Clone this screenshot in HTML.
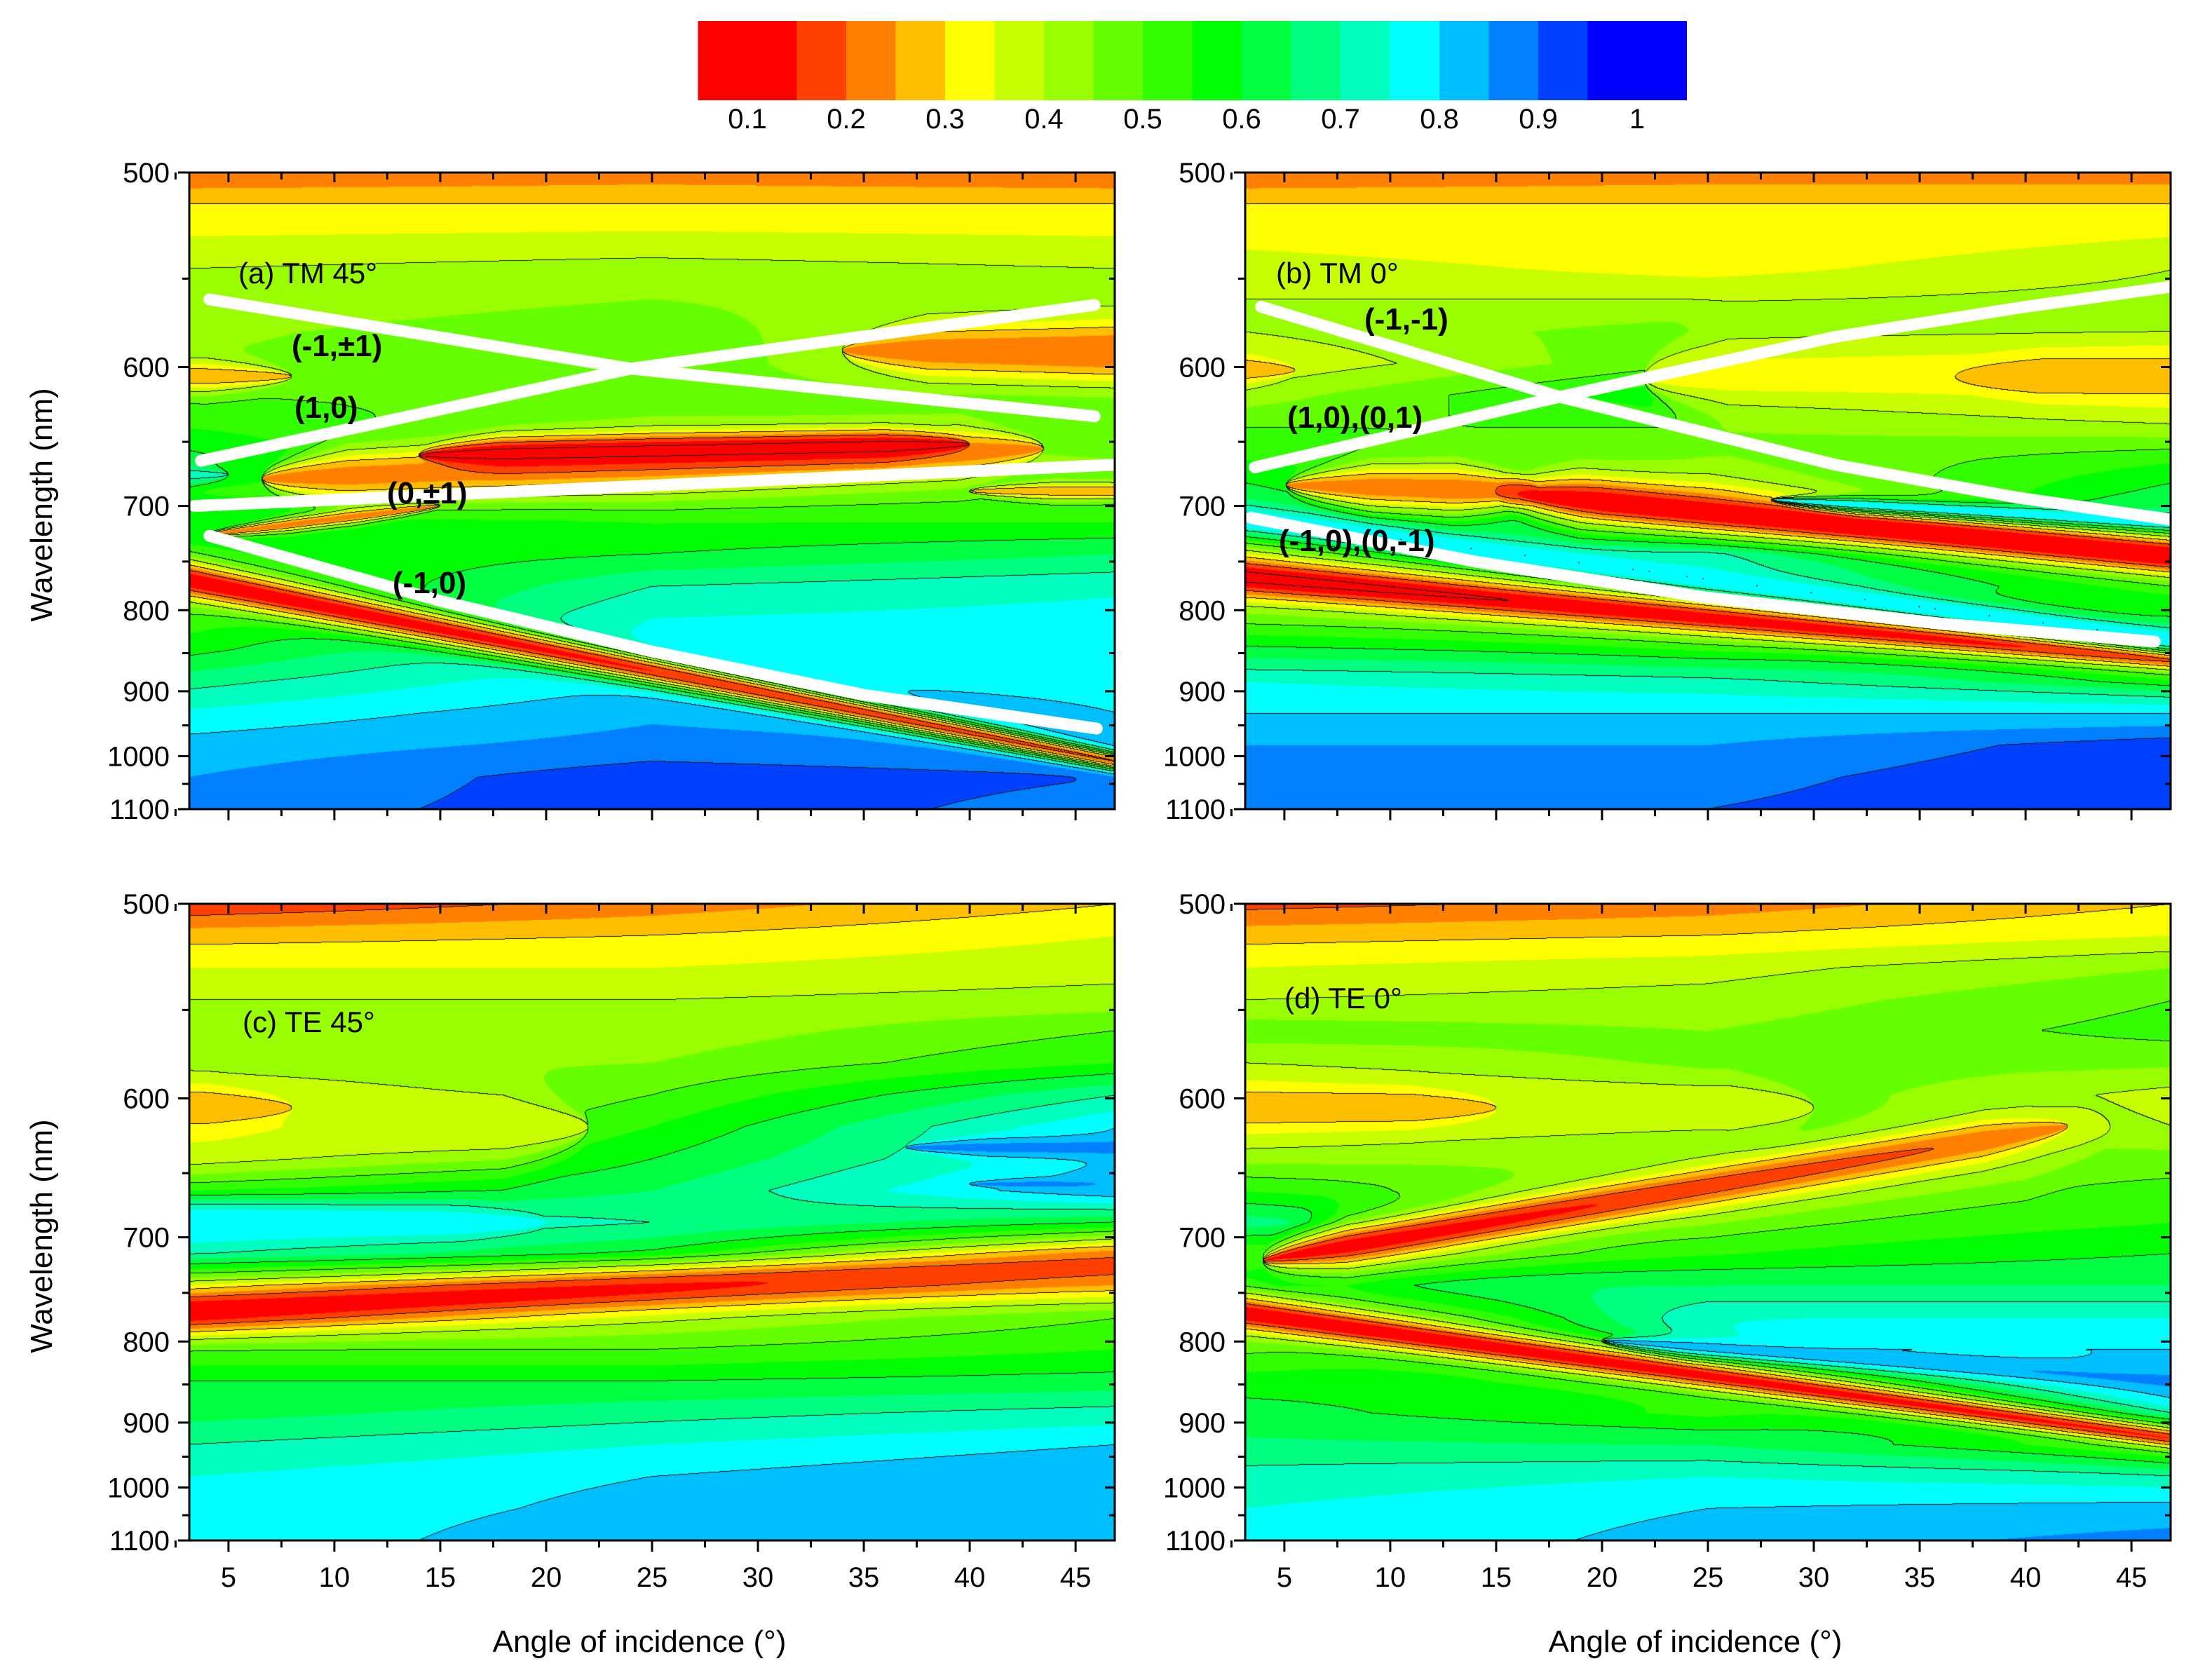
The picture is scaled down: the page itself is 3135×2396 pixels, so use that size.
<!DOCTYPE html>
<html><head><meta charset="utf-8"><style>
html,body{margin:0;padding:0;background:#fff;}
#root{position:relative;width:3135px;height:2396px;overflow:hidden;background:#fff;font-family:"Liberation Sans",sans-serif;}
canvas{position:absolute;}
svg{position:absolute;left:0;top:0;}
</style></head><body>
<div id="root">
<canvas id="cva" width="1320" height="908" style="left:270px;top:246px"></canvas>
<canvas id="cvb" width="1320" height="908" style="left:1776px;top:246px"></canvas>
<canvas id="cvc" width="1320" height="908" style="left:270px;top:1289px"></canvas>
<canvas id="cvd" width="1320" height="908" style="left:1776px;top:1289px"></canvas>
<svg id="ov" width="3135" height="2396" viewBox="0 0 3135 2396"></svg>
</div>
<script>
// ---- data ----
const wlNodes=[500,514,529,545,561,579,598,618,640,663,688,714,743,775,809,846,887,932,982,1038,1100];
const colAngles=[3,25,47];
const levelColors=['#ff0000','#ff4000','#ff8000','#ffbf00','#ffff00','#c8ff00','#99ff00','#66ff00','#33ff00','#00ff00','#00ff40','#00ff80','#00ffbf','#00ffff','#00bfff','#0080ff','#0040ff','#0000ff'];
const cbTicks=[0.1,0.2,0.3,0.4,0.5,0.6,0.7,0.8,0.9,1];
const yTicks=[500,600,700,800,900,1000,1100];
const yMinor=[550,650,750,850,950,1050];
const xTicks=[5,10,15,20,25,30,35,40,45];

// panel a TM 45
const aLeft=[.2,.3,.35,.4,.42,.44,.45,.5,.55,.62,.55,.6,.55,.5,.52,.58,.68,.76,.82,.85,.87];
const aMid=[.22,.3,.36,.42,.45,.48,.5,.48,.45,.4,.45,.55,.6,.7,.75,.78,.8,.84,.87,.93,.93];
const aRight=[.2,.3,.35,.4,.42,.35,.3,.45,.5,.45,.5,.55,.65,.74,.77,.78,.79,.8,.85,.9,.88];
// band: [angleStart, angleEnd, wlStart, wlEnd, valStart, valEnd, widthStart, widthEnd]
const aBands=[[6.6,43.5,678,655,.22,.22,22,18],[14,40,660,652,.08,.08,12,10],[34,47,590,590,.22,.2,14,14],[3,8,606,606,.26,.26,10,10],[4,15,725,700,.22,.22,7,6],[40,47,688,688,.25,.25,7,7],[3,5,675,675,.72,.72,12,12],[3,47,768,1010,.45,.42,24,18],[3,47,768,1010,.1,.2,18,10]];
// panel b TM 0
const bLeft=[.2,.3,.33,.38,.4,.4,.35,.42,.5,.55,.62,.7,.55,.45,.5,.62,.75,.8,.85,.87,.87];
const bMid=[.22,.3,.3,.33,.4,.48,.5,.6,.5,.45,.4,.55,.75,.7,.5,.6,.72,.8,.85,.88,.9];
const bRight=[.22,.3,.35,.4,.42,.45,.35,.38,.45,.55,.62,.68,.5,.55,.6,.75,.65,.8,.93,.95,.95];
const bBands=[[3,5.5,602,602,.25,.25,10,10],[22,47,606,606,.33,.33,30,30],[36.7,47,606,606,.25,.25,12,12],[5.1,17,683,688,.22,.2,18,22],[15,47,688,745,.18,.14,22,20],[16,47,690,745,.1,.1,10,10],[3,47,765,860,.45,.45,40,30],[3,47,765,858,.08,.15,22,12],[3,47,711,834,.8,.8,12,15],[28,47,695,714,.78,.8,6,7]];
// panel c TE 45
const cLeft=[.15,.28,.35,.4,.42,.43,.35,.35,.4,.55,.78,.7,.4,.3,.5,.6,.63,.7,.75,.75,.75];
const cMid=[.22,.3,.35,.4,.42,.45,.5,.55,.6,.65,.7,.6,.3,.4,.5,.6,.68,.75,.8,.82,.85];
const cRight=[.3,.35,.38,.42,.5,.55,.7,.8,.8,.85,.6,.3,.3,.5,.55,.62,.72,.8,.85,.85,.85];
const cBands=[[3,22,618,618,.35,.35,25,25],[3,8,606,606,.25,.25,12,12],[3,20,688,688,.8,.78,15,12],[37,47,632,632,.87,.87,7,7],[40,46,658,658,.87,.87,4,4],[3,47,768,725,.1,.18,20,18]];
// panel d TE 0
const dLeft=[.18,.28,.35,.4,.48,.42,.35,.38,.45,.55,.68,.5,.65,.4,.5,.58,.62,.66,.72,.75,.75];
const dMid=[.22,.3,.38,.42,.45,.48,.5,.5,.45,.45,.5,.55,.65,.75,.8,.6,.55,.65,.75,.8,.82];
const dRight=[.3,.35,.45,.5,.52,.46,.38,.4,.47,.52,.55,.6,.65,.75,.8,.84,.8,.55,.72,.82,.87];
const dBands=[[3,30,606,606,.35,.35,25,20],[3,15,606,606,.25,.25,12,10],[4,44,720,618,.35,.38,28,25],[4,42,720,618,.1,.22,14,12],[3,47,770,923,.48,.5,40,35],[3,47,770,923,.1,.15,18,14],[20,47,799,846,.82,.86,10,12]];

// white diffraction-order lines [angle, wavelength]
const lineA1=[[4.1,561],[24,601],[45.9,632]];
const lineA2=[[3.7,664],[24,601],[36,580],[45.9,564]];
const lineA3=[[3.4,700],[46.85,667]];
const lineA4=[[4.1,726],[15,790],[25,848],[35,905],[46,955]];
const lineB1=[[3.9,565],[18,619],[31,667],[39.6,693],[47,712]];
const lineB2=[[3.6,669],[18,619],[31,582],[40,565],[47,554]];
const lineB3=[[3.4,710],[14,750],[24.8,786],[36,815],[46.1,836]];

// ---- rendering ----
const K=1/500-1/1100;
function fOf(l){return (1/500-1/l)/K;}
const A0=3.15,A1=46.85;
const nodeF=wlNodes.map(fOf);
function renderPanel(cv,cols,bands){
  const w=cv.width,h=cv.height,ctx=cv.getContext('2d');
  const img=ctx.createImageData(w,h),d=img.data;
  const vals=new Float32Array(w*h);
  const nb=bands.length;
  const bfc=[],bwf=[],bamp=[],bval=[];
  for(let i=0;i<nb;i++){bfc.push(new Float32Array(w));bwf.push(new Float32Array(w));bamp.push(new Float32Array(w));bval.push(new Float32Array(w));}
  const colT=new Float32Array(w),colSeg=new Int8Array(w);
  for(let px=0;px<w;px++){
    const a=A0+(px+0.5)/w*(A1-A0);
    if(a<colAngles[1]){colSeg[px]=0;colT[px]=Math.max(0,(a-colAngles[0])/(colAngles[1]-colAngles[0]));}
    else{colSeg[px]=1;colT[px]=Math.min(1,(a-colAngles[1])/(colAngles[2]-colAngles[1]));}
    for(let i=0;i<nb;i++){
      const b=bands[i];
      let t=(a-b[0])/(b[1]-b[0]);
      const tc=Math.max(0,Math.min(1,t));
      const fc=fOf(b[2])+(fOf(b[3])-fOf(b[2]))*t;
      const lc=1/(1/500-fc*K);
      let wn=b[6]+(b[7]-b[6])*tc;
      let amp=1;
      if(b[0]>3.3){const r=(a-b[0])/4; if(r<=0)amp=0; else if(r<1) wn*=Math.sqrt(r);}
      if(b[1]<46.7){const r=(b[1]-a)/4; if(r<=0)amp=0; else if(r<1) wn*=Math.sqrt(r);}
      bfc[i][px]=fc; bwf[i][px]=Math.max(1e-4,wn/(lc*lc*K)); bamp[i][px]=amp; bval[i][px]=b[4]+(b[5]-b[4])*tc;
    }
  }
  for(let py=0;py<h;py++){
    const f=(py+0.5)/h;
    let k=0; while(k<nodeF.length-2&&f>nodeF[k+1])k++;
    const u=Math.max(0,Math.min(1,(f-nodeF[k])/(nodeF[k+1]-nodeF[k])));
    const c0=cols[0][k]+(cols[0][k+1]-cols[0][k])*u;
    const c1=cols[1][k]+(cols[1][k+1]-cols[1][k])*u;
    const c2=cols[2][k]+(cols[2][k+1]-cols[2][k])*u;
    for(let px=0;px<w;px++){
      const t=colT[px];
      let v=colSeg[px]===0?c0+(c1-c0)*t:c1+(c2-c1)*t;
      for(let i=0;i<nb;i++){
        const am=bamp[i][px]; if(am===0)continue;
        const z=(f-bfc[i][px])/bwf[i][px];
        if(z>3||z<-3)continue;
        const g=Math.exp(-z*z)*am;
        v=v+(bval[i][px]-v)*g;
      }
      vals[py*w+px]=v;
    }
  }
  const rgb=levelColors.map(c=>[parseInt(c.slice(1,3),16),parseInt(c.slice(3,5),16),parseInt(c.slice(5,7),16)]);
  for(let py=0;py<h;py++)for(let px=0;px<w;px++){
    const v=vals[py*w+px];
    let idx=Math.floor((v-0.1)/0.05); if(idx<0)idx=0; if(idx>17)idx=17;
    const L=Math.floor(v*10);
    let line=false;
    if(px+1<w&&Math.floor(vals[py*w+px+1]*10)!==L)line=true;
    if(py+1<h&&Math.floor(vals[(py+1)*w+px]*10)!==L)line=true;
    const o=(py*w+px)*4;
    if(line){d[o]=20;d[o+1]=20;d[o+2]=20;}
    else{d[o]=rgb[idx][0];d[o+1]=rgb[idx][1];d[o+2]=rgb[idx][2];}
    d[o+3]=255;
  }
  ctx.putImageData(img,0,0);
}
renderPanel(document.getElementById('cva'),[aLeft,aMid,aRight],aBands);
renderPanel(document.getElementById('cvb'),[bLeft,bMid,bRight],bBands);
renderPanel(document.getElementById('cvc'),[cLeft,cMid,cRight],cBands);
renderPanel(document.getElementById('cvd'),[dLeft,dMid,dRight],dBands);

// ---- overlay svg ----
const NS='http://www.w3.org/2000/svg';
const ov=document.getElementById('ov');
function mk(tag,attrs,parent){const e=document.createElementNS(NS,tag);for(const k in attrs)e.setAttribute(k,attrs[k]);(parent||ov).appendChild(e);return e;}
function cbX(v){return 1066+(v-0.1)*1410;}
const cbg=mk('g',{});


for(let i=0;i<levelColors.length;i++){
  const lo=i===0?0.05:0.1+0.05*i, hi=i===17?1.05:0.15+0.05*i;
  const r=mk('rect',{x:cbX(lo),y:30,width:cbX(hi)-cbX(lo)+0.5,height:113,fill:levelColors[i]},cbg);
  
  
}
cbTicks.forEach(v=>{
  const t=mk('text',{x:cbX(v),y:183,'font-size':40,'text-anchor':'middle',fill:'#000'},cbg);
  t.textContent=String(v);
  
  
});
const panels=[
 {id:'a',x:270,y:246,title:'(a) TM 45°',tx:340,ty:404,xl:false,lines:[lineA1,lineA2,lineA3,lineA4],labels:[['(-1,±1)',416,508],['(1,0)',420,596],['(0,±1)',552,718],['(-1,0)',560,846]]},
 {id:'b',x:1776,y:246,title:'(b) TM 0°',tx:1820,ty:404,xl:false,lines:[lineB1,lineB2,lineB3],labels:[['(-1,-1)',1946,470],['(1,0),(0,1)',1836,610],['(-1,0),(0,-1)',1824,786]]},
 {id:'c',x:270,y:1289,title:'(c) TE 45°',tx:346,ty:1472,xl:true,lines:[],labels:[]},
 {id:'d',x:1776,y:1289,title:'(d) TE 0°',tx:1832,ty:1438,xl:true,lines:[],labels:[]}
];
const PW=1320,PH=908;
panels.forEach(p=>{
  const g=mk('g',{});
  
  
  const X=a=>p.x+(a-A0)/(A1-A0)*PW;
  const Y=l=>p.y+fOf(l)*PH;
  p.lines.forEach(ln=>{
    const pl=mk('polyline',{points:ln.map(q=>X(q[0]).toFixed(1)+','+Y(q[1]).toFixed(1)).join(' '),fill:'none',stroke:'#fff','stroke-width':17,'stroke-linecap':'round','stroke-linejoin':'round'},g);
    
    
  });
  p.labels.forEach(lb=>{
    const t=mk('text',{x:lb[1],y:lb[2],'font-size':44,'font-weight':'bold',fill:'#000'},g);
    t.textContent=lb[0];
    
    
  });
  const tt=mk('text',{x:p.tx,y:p.ty,'font-size':42,fill:'#000'},g);
  tt.textContent=p.title;
  
  
  const fr=mk('rect',{x:p.x,y:p.y,width:PW,height:PH,fill:'none',stroke:'#000','stroke-width':3},g);
  
  
  let tk='';
  yTicks.forEach(l=>{const y=Y(l);tk+=`M${p.x-16},${y}H${p.x}M${p.x+PW},${y}H${p.x+PW-14}`;});
  yMinor.forEach(l=>{const y=Y(l);tk+=`M${p.x-10},${y}H${p.x}M${p.x+PW},${y}H${p.x+PW-8}`;});
  xTicks.forEach(a=>{const x=X(a);tk+=`M${x},${p.y+PH}V${p.y+PH+16}M${x},${p.y}V${p.y+14}`;
    const xm=X(a-2.5);tk+=`M${xm},${p.y+PH}V${p.y+PH+10}M${xm},${p.y}V${p.y+10}`;});
  const tp=mk('path',{d:tk,stroke:'#000','stroke-width':3,fill:'none'},g);
  
  
  yTicks.forEach(l=>{
    const t=mk('text',{x:p.x-28,y:Y(l)+14,'font-size':40,'text-anchor':'end',fill:'#000'},g);
    t.textContent=String(l);
    
    
  });
  if(p.xl){
    xTicks.forEach(a=>{
      const t=mk('text',{x:X(a),y:p.y+PH+66,'font-size':40,'text-anchor':'middle',fill:'#000'},g);
      t.textContent=String(a);
      
      
    });
    const xt=mk('text',{x:p.x+PW/2-18,y:2356,'font-size':44,'text-anchor':'middle',fill:'#000'},g);
    xt.textContent='Angle of incidence (°)';
    
    
  }
  if(p.id==='a'||p.id==='c'){
    const cy=p.y+PH/2+20;
    const yt=mk('text',{x:74,y:cy,'font-size':44,'text-anchor':'middle',fill:'#000',transform:`rotate(-90 74 ${cy})`},g);
    yt.textContent='Wavelength (nm)';
    
    
  }
});
</script>
</body></html>
